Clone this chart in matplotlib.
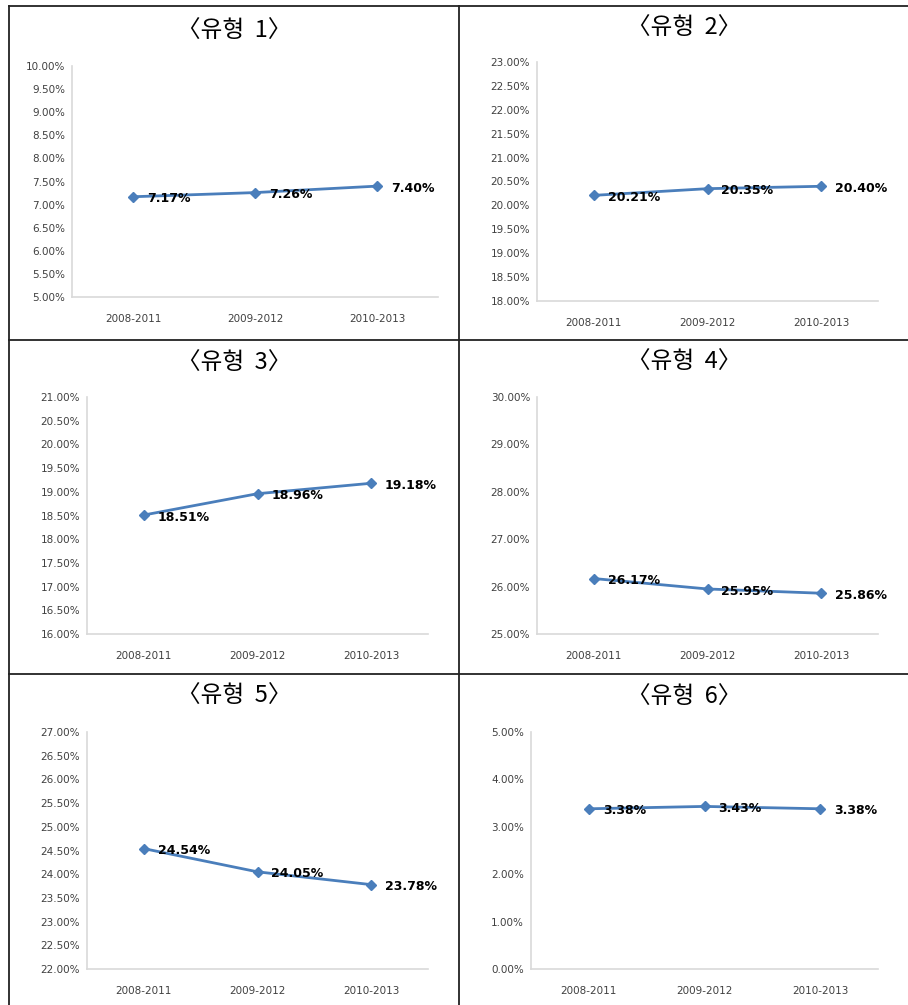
import matplotlib
matplotlib.use("Agg")
import matplotlib.pyplot as plt
from matplotlib.lines import Line2D
from matplotlib.ticker import MultipleLocator, FuncFormatter

plt.rcParams['font.family'] = ['DejaVu Sans']

periods = ['2008-2011', '2009-2012', '2010-2013']
titles = ['〈유형  1〉', '〈유형  2〉', '〈유형  3〉', '〈유형  4〉', '〈유형  5〉', '〈유형  6〉']
type1 = [7.17, 7.26, 7.40]
type2 = [20.21, 20.35, 20.40]
type3 = [18.51, 18.96, 19.18]
type4 = [26.17, 25.95, 25.86]
type5 = [24.54, 24.05, 23.78]
type6 = [3.38, 3.43, 3.38]
series = [type1, type2, type3, type4, type5, type6]
y_min = [5, 18, 16, 25, 22, 0]
y_max = [10, 23, 21, 30, 27, 5]
y_step = [0.5, 0.5, 0.5, 1, 0.5, 1]

W, H = 908, 1005
fig = plt.figure(figsize=(W / 100, H / 100), dpi=100)

# axes boxes in pixels: left, right, top, bottom
boxes = [(72, 438, 66, 297), (537, 878, 62, 301),
         (87, 428, 397, 634), (537, 878, 397, 634),
         (87, 428, 732, 969), (531, 878, 732, 969)]
title_pos = [(234, 31), (684, 28), (234, 363), (684, 362), (234, 696), (684, 697)]

line_col = '#4A7EBB'

for i in range(6):
    l, r, t, b = boxes[i]
    ax = fig.add_axes([l / W, 1 - b / H, (r - l) / W, (b - t) / H])
    x = list(range(len(periods)))
    ax.plot(x, series[i], color=line_col, lw=2.0, marker='D', ms=5.5,
            markerfacecolor=line_col, markeredgecolor=line_col, zorder=3)
    for xi, v in zip(x, series[i]):
        ax.annotate('%.2f%%' % v, (xi, v), xytext=(10, -1.5), textcoords='offset points',
                    ha='left', va='center', fontsize=9, fontweight='bold', color='black')
    ax.set_xlim(-0.5, 2.5)
    ax.set_ylim(y_min[i], y_max[i])
    ax.yaxis.set_major_locator(MultipleLocator(y_step[i]))
    ax.yaxis.set_major_formatter(FuncFormatter(lambda v, p: '%.2f%%' % v))
    ax.set_xticks(x)
    ax.set_xticklabels(periods)
    ax.tick_params(axis='both', length=0, labelsize=7.5, labelcolor='#404040')
    ax.tick_params(axis='x', pad=12)
    ax.tick_params(axis='y', pad=5)
    for s in ['top', 'right']:
        ax.spines[s].set_visible(False)
    for s in ['left', 'bottom']:
        ax.spines[s].set_color('#D9D9D9')
        ax.spines[s].set_linewidth(1.2)
    tx, ty = title_pos[i]
    fig.text(tx / W, 1 - ty / H, titles[i], ha='center', va='center', fontsize=17,
             family=['Noto Sans CJK KR', 'DejaVu Sans'], fontweight='light')

# table grid lines
grid_col = '#222222'
for y in [6, 340, 674]:
    fig.add_artist(Line2D([9 / W, 1], [1 - y / H, 1 - y / H], color=grid_col, lw=1.3,
                          transform=fig.transFigure))
for xg in [9, 459]:
    fig.add_artist(Line2D([xg / W, xg / W], [1 - 6 / H, 0], color=grid_col, lw=1.3,
                          transform=fig.transFigure))

fig.savefig('out.png', dpi=100)
